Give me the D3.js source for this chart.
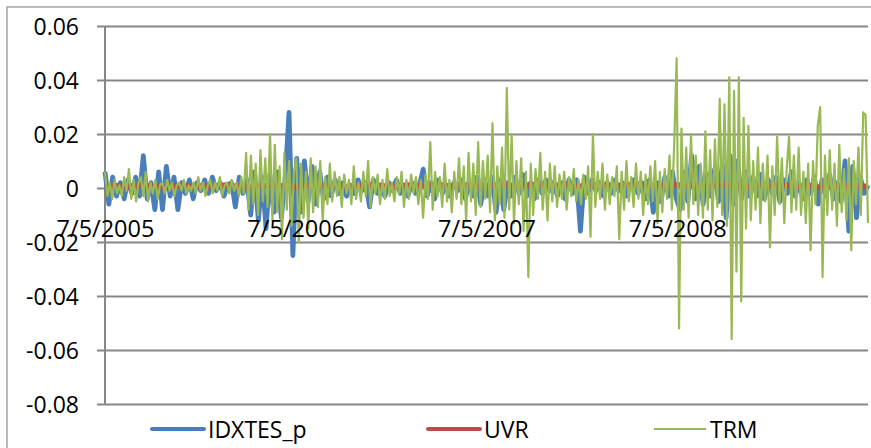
<!DOCTYPE html>
<html><head><meta charset="utf-8">
<script src="https://cdn.jsdelivr.net/npm/d3@7"></script>
<style>body{margin:0;background:#fff}svg{display:block}</style>
</head><body><svg id="c" width="871" height="448"></svg>
<script>
const seriesNames = ["IDXTES_p", "UVR", "TRM"];
const dateLabels = ["7/5/2005", "7/5/2006", "7/5/2007", "7/5/2008"];
const yTicks = [0.06, 0.04, 0.02, 0, -0.02, -0.04, -0.06, -0.08];

const idxtes = [
  0.006,-0.006,0.004,-0.003,0.002,
  -0.004,0.003,-0.002,0.004,-0.003,0.012,-0.004,
  0.002,-0.008,0.006,-0.008,0.008,-0.003,0.004,-0.008,0.002,
  -0.002,0.003,-0.004,0.002,-0.001,0.003,-0.002,0.004,-0.001,0.002,-0.003,0.001,0.002,-0.007,0.004,-0.002,
  0.003,-0.010,0.006,-0.012,0.004,-0.015,0.005,-0.009,0.006,-0.011,0.004,0.028,-0.025,
  0.011,-0.009,0.010,-0.005,0.008,-0.006,0.006,-0.004,0.004,-0.003,0.003,-0.002,
  0.002,-0.003,0.001,-0.002,0.003,-0.001,0.002,-0.007,0.003,-0.002,0.001,-0.003,0.002,-0.001,0.003,-0.002,0.001,-0.003,0.002,-0.002,0.001,
  0.007,-0.003,0.002,-0.004,0.003,-0.002,0.001,-0.003,0.002,-0.001,0.003,-0.004,0.002,-0.003,0.004,-0.006,0.003,
  -0.003,0.004,-0.009,0.003,-0.008,0.002,-0.003,0.004,-0.002,0.005,-0.003,0.002,-0.004,0.003,-0.002,0.003,-0.001,0.002,-0.003,
  0.002,-0.004,0.003,-0.002,0.003,-0.016,0.004,-0.002,0.003,-0.001,0.002,-0.003,0.002,-0.002,0.003,-0.001,0.002,-0.003,0.001,0.003,-0.002,
  0.002,-0.004,0.003,-0.009,0.002,-0.005,0.004,-0.003,0.006,-0.004,
  -0.008,0.006,-0.005,0.012,-0.004,0.008,
  -0.006,0.005,-0.003,0.007,-0.005,0.009,-0.011,0.012,-0.006,0.010,-0.004,0.006,-0.003,
  0.004,-0.003,0.005,-0.004,0.003,-0.002,0.004,-0.005,0.003,-0.002,0.006,-0.003,0.002,
  -0.004,0.003,-0.002,0.004,-0.006,0.003,-0.003,0.005,-0.004,0.002,-0.005,0.010,-0.016,0.008,-0.011,0.004,-0.002,0.001
];

const uvr = [
  0.0003,0.0008,0.0004,0.0010,0.0006,0.0002,0.0009,0.0005,0.0007,0.0003,0.0011,0.0006,0.0004,0.0008,0.0012,0.0005,
  0.0003,0.0009,0.0006,0.0010,0.0004,0.0007,0.0012,0.0008,0.0005,0.0011,0.0007,0.0013,0.0009,0.0006,0.0012,0.0008,
  0.0010,0.0014,0.0007,0.0011,0.0015,0.0009,0.0012,0.0006,0.0010,0.0013,0.0008,0.0011,0.0014,0.0009,0.0007,0.0012,
  0.0010,0.0006,0.0009,0.0013,0.0008,0.0004,0.0010,0.0007,0.0011,0.0005,0.0008,0.0003,0.0009,0.0006,0.0004,0.0007
];

const trm = [
  0.006,-0.003,0.002,-0.004,0.003,-0.002,0.001,-0.003,0.004,-0.001,
  0.007,-0.004,0.003,-0.005,0.002,0.004,-0.003,0.006,-0.005,0.002,
  -0.002,0.003,-0.004,0.001,0.002,-0.002,0.003,-0.001,0.002,-0.003,
  0.001,0.002,-0.001,0.003,-0.002,0.001,-0.001,0.002,-0.002,0.004,
  -0.001,0.002,-0.003,0.001,0.003,-0.002,0.002,-0.001,0.004,-0.003,
  0.001,0.002,-0.002,0.003,-0.001,0.002,-0.003,0.004,-0.002,
  0.013,-0.008,0.012,-0.006,0.009,-0.010,0.014,-0.005,0.011,-0.007,0.020,-0.012,0.016,-0.009,0.008,-0.019,0.013,-0.008,0.010,-0.014,0.006,
  0.011,-0.020,0.009,-0.011,0.006,-0.015,0.011,-0.009,0.008,-0.007,0.010,-0.012,0.004,-0.006,0.009,
  -0.005,0.006,-0.003,0.004,-0.007,0.005,-0.002,0.003,-0.006,0.008,
  -0.004,0.002,-0.005,0.006,-0.003,0.010,-0.007,0.004,-0.002,0.005,
  -0.006,0.003,-0.004,0.007,-0.003,0.002,-0.005,0.004,-0.002,0.006,
  -0.007,0.003,-0.004,0.005,-0.002,0.004,-0.006,0.003,
  -0.011,0.005,-0.004,0.017,-0.008,0.006,-0.003,0.004,-0.007,0.009,
  -0.005,0.003,-0.009,0.006,-0.004,0.011,-0.006,0.008,-0.012,0.013,
  -0.005,0.009,-0.010,0.017,-0.007,0.010,-0.004,
  0.012,-0.009,0.024,-0.012,0.008,-0.006,0.015,-0.011,0.037,-0.008,
  0.020,-0.013,0.010,-0.006,0.011,-0.016,0.006,-0.033,0.009,-0.010,
  0.007,-0.004,0.013,-0.008,0.006,-0.012,0.009,-0.005,0.008,-0.007,0.005,
  -0.004,0.006,-0.008,0.004,-0.003,0.007,-0.005,0.003,-0.006,0.005,
  -0.004,0.008,-0.018,0.020,-0.007,0.006,-0.004,0.009,-0.008,0.005,
  -0.006,0.004,-0.003,0.008,-0.019,
  0.006,-0.008,0.010,-0.005,0.004,-0.007,0.009,-0.004,0.006,-0.010,
  0.005,-0.006,0.008,-0.005,0.010,-0.013,0.006,-0.009,0.007,-0.004,
  0.012,-0.008,0.017,0.048,
  -0.052,0.022,-0.008,0.015,-0.011,0.020,-0.006,0.012,-0.010,0.009,
  -0.011,0.021,-0.008,0.014,-0.012,0.018,-0.007,
  0.033,-0.010,0.031,-0.014,0.041,-0.056,0.036,-0.031,0.041,-0.042,0.026,-0.015,0.023,-0.012,
  0.010,-0.008,0.015,-0.013,0.009,-0.005,0.012,-0.022,0.008,-0.010,0.019,-0.006,0.011,-0.013,0.007,0.019,-0.009,
  0.012,-0.008,0.015,-0.010,0.006,-0.013,0.009,-0.023,0.010,-0.006,0.023,0.030,-0.033,
  0.012,-0.010,0.014,-0.008,0.009,-0.014,0.016,-0.009,0.007,-0.012,0.011,-0.023,0.010,-0.006,0.015,-0.010,0.028,0.027,-0.013
];

const seriesValues = [idxtes, uvr, trm];
const seriesColors = ["#4A7EBB", "#BE4B48", "#98B954"];
const seriesWidths = [4.8, 5.5, 2.2];

const svg = d3.select("#c");
const FONT = "'Open Sans', sans-serif";
const plotLeft = 105, plotRight = 868, plotTop = 26, plotBottom = 404;
const nYears = dateLabels.length;

const x = d3.scaleLinear().domain([0, nYears]).range([plotLeft, plotRight]);
const y = d3.scaleLinear().domain([-0.08, 0.06]).range([plotBottom, plotTop]);

// chart border
svg.append("rect").attr("x", 7).attr("y", 7).attr("width", 900).attr("height", 500)
  .attr("fill", "none").attr("stroke", "#a6a6a6").attr("stroke-width", 1.5);

// gridlines
const grid = svg.append("g").attr("transform", `translate(97,0)`)
  .call(d3.axisRight(y).tickValues(yTicks).tickSize(plotRight - 97).tickFormat(""));
grid.select(".domain").remove();
grid.selectAll("line").attr("stroke", "#878787").attr("stroke-width", 2);

// vertical axis line
svg.append("line").attr("x1", plotLeft).attr("x2", plotLeft).attr("y1", plotTop).attr("y2", plotBottom)
  .attr("stroke", "#878787").attr("stroke-width", 2);

// y labels
const yl = svg.append("g").attr("transform", `translate(79,0)`)
  .call(d3.axisLeft(y).tickValues(yTicks).tickSize(0).tickPadding(0)
    .tickFormat(d => d === 0 ? "0" : d.toFixed(2)));
yl.select(".domain").remove();
yl.selectAll("text").attr("font-family", FONT).attr("font-size", 23).attr("fill", "#000")
  .attr("dy", "0.36em");

// series
seriesValues.forEach((vals, k) => {
  const line = d3.line()
    .x((d, i) => x(i * nYears / (vals.length - 1)))
    .y(d => y(d));
  svg.append("path").datum(vals).attr("d", line)
    .attr("fill", "none").attr("stroke", seriesColors[k])
    .attr("stroke-width", seriesWidths[k]).attr("stroke-linejoin", "round");
});

// date labels
const xl = svg.append("g").attr("transform", `translate(0,${y(0)})`)
  .call(d3.axisBottom(x).tickValues(d3.range(nYears)).tickSize(0).tickPadding(0)
    .tickFormat(i => dateLabels[i]));
xl.select(".domain").remove();
xl.selectAll("text").attr("font-family", FONT).attr("font-size", 23.5).attr("fill", "#000")
  .attr("y", 49).attr("dy", 0);

// legend
const legendLineX = [152, 428, 654];
const legendG = svg.append("g");
seriesNames.forEach((name, k) => {
  legendG.append("line").attr("x1", legendLineX[k]).attr("x2", legendLineX[k] + 52)
    .attr("y1", 429).attr("y2", 429).attr("stroke", seriesColors[k])
    .attr("stroke-width", k === 2 ? 2 : 4).attr("stroke-linecap", k === 2 ? "butt" : "round");
  legendG.append("text").attr("x", legendLineX[k] + 56).attr("y", 437.5)
    .attr("font-family", FONT).attr("font-size", 23).attr("fill", "#000").text(name);
});
</script></body></html>
